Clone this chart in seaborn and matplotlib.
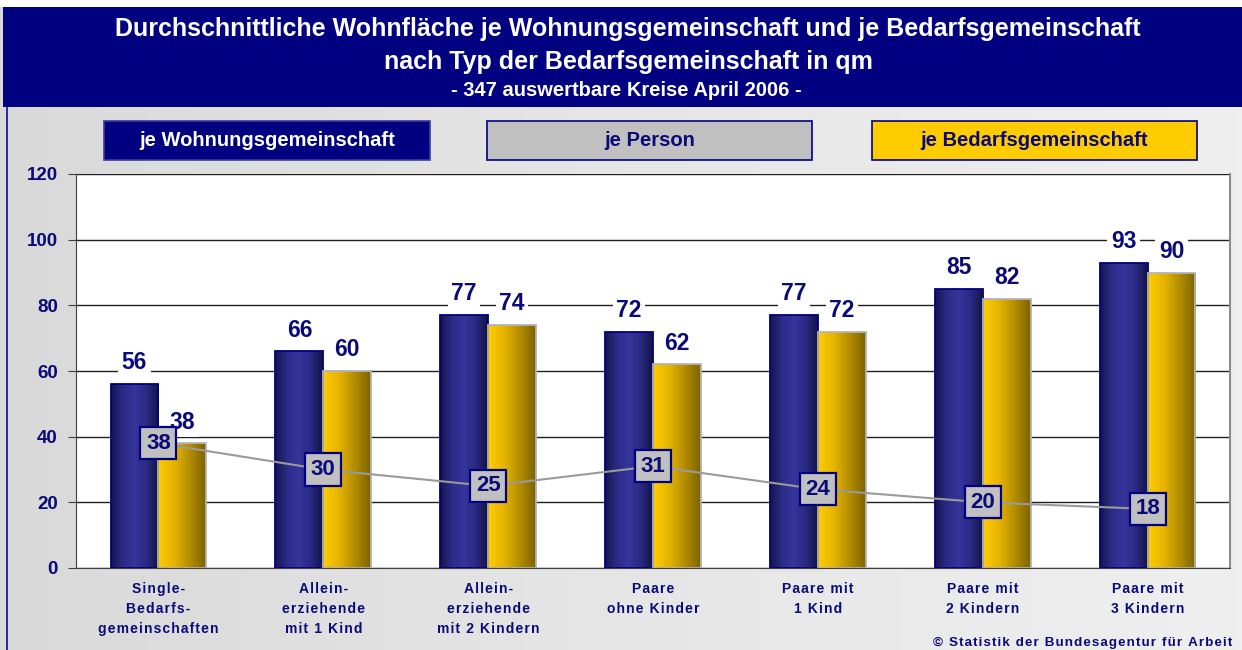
import numpy as np
import pandas as pd
import matplotlib
matplotlib.use("Agg")
import matplotlib.pyplot as plt
import seaborn as sns
from matplotlib.colors import LinearSegmentedColormap
from matplotlib.patches import Rectangle

# ===== Data =====
categories = [
    "Single-\nBedarfs-\ngemeinschaften",
    "Allein-\nerziehende\nmit 1 Kind",
    "Allein-\nerziehende\nmit 2 Kindern",
    "Paare\nohne Kinder",
    "Paare mit\n1 Kind",
    "Paare mit\n2 Kindern",
    "Paare mit\n3 Kindern",
]
je_wg = [56, 66, 77, 72, 77, 85, 93]
je_bg = [38, 60, 74, 62, 72, 82, 90]
je_person = [38, 30, 25, 31, 24, 20, 18]
series_names = ["je Wohnungsgemeinschaft", "je Bedarfsgemeinschaft"]

NAVY = "#000080"
TEXT_NAVY = "#0a0a78"
GOLD = "#ffcc00"
GREY = "#c0c0c0"

df = pd.DataFrame({
    "typ": categories * 2,
    "serie": [series_names[0]] * len(categories) + [series_names[1]] * len(categories),
    "qm": je_wg + je_bg,
})

sns.set_style("white")
plt.rcParams["font.family"] = ["Liberation Sans", "DejaVu Sans"]

W, H = 1242, 650
fig = plt.figure(figsize=(W / 100, H / 100), dpi=100)


def px(x0, y0, x1, y1):
    # pixel box (top-left origin) -> figure fraction rect
    return [x0 / W, 1 - y1 / H, (x1 - x0) / W, (y1 - y0) / H]


def spaced(s):
    # gesperrte Schrift: hair space between letters
    return "\n".join("\u200a".join(line) for line in s.split("\n"))


# ===== Background =====
bg_ax = fig.add_axes([0, 0, 1, 1], zorder=-10)
bg_cmap = LinearSegmentedColormap.from_list("bg", ["#d9d9d9", "#e6e6e6", "#efefef"])
bg_ax.imshow(np.linspace(0, 1, 256).reshape(1, -1), cmap=bg_cmap, aspect="auto",
             extent=[0, 1, 0, 1])
bg_ax.set_axis_off()
bg_ax.set_xlim(0, 1)
bg_ax.set_ylim(0, 1)
fig.patches.append(Rectangle((0, 1 - 7 / H), 1, 7 / H, transform=fig.transFigure,
                             facecolor="white", edgecolor="none", zorder=-5))
fig.patches.append(Rectangle((3 / W, 1 - 107 / H), 1, 100 / H, transform=fig.transFigure,
                             facecolor=NAVY, edgecolor="none", zorder=-5))
fig.patches.append(Rectangle((6 / W, 0), 2 / W, 1 - 107 / H, transform=fig.transFigure,
                             facecolor="#2b2bb0", edgecolor="none", zorder=-5))

fig.text(628 / W, 1 - 29 / H, "Durchschnittliche Wohnfläche je Wohnungsgemeinschaft und je Bedarfsgemeinschaft",
         color="white", fontsize=18, fontweight="bold", ha="center", va="center")
fig.text(628 / W, 1 - 62 / H, "nach Typ der Bedarfsgemeinschaft in qm",
         color="white", fontsize=18, fontweight="bold", ha="center", va="center")
fig.text(626 / W, 1 - 90 / H, "- 347 auswertbare Kreise April 2006 -",
         color="white", fontsize=14.5, fontweight="bold", ha="center", va="center")

# ===== Legend boxes =====
legend_items = [
    ("je Wohnungsgemeinschaft", NAVY, "white", 104, 430, "#3a3aa0"),
    ("je Person", GREY, TEXT_NAVY, 487, 812, NAVY),
    ("je Bedarfsgemeinschaft", GOLD, TEXT_NAVY, 872, 1197, NAVY),
]
for label, fc, tc, x0, x1, ec in legend_items:
    r = px(x0, 121, x1, 160)
    fig.patches.append(Rectangle((r[0], r[1]), r[2], r[3], transform=fig.transFigure,
                                 facecolor=fc, edgecolor=ec, linewidth=1.2, zorder=-4))
    fig.text((x0 + x1) / 2 / W, 1 - 141 / H, label, color=tc, fontsize=14.5,
             fontweight="bold", ha="center", va="center")

# ===== Chart =====
ax = fig.add_axes(px(76, 174, 1230, 568))
ax.set_facecolor("white")
sns.barplot(data=df, x="typ", y="qm", hue="serie", order=categories,
            hue_order=series_names, width=0.58, gap=0, legend=False,
            palette=[NAVY, GOLD], ax=ax)

grad_colors = [
    ["#15154f", "#2c2c88", "#35359c", "#2a2a84", "#131345"],
    ["#ffcc00", "#e6b400", "#b38d00", "#7d6200"],
]
edge_colors = [NAVY, "#b4b4b4"]
for cont, cols, ec in zip(ax.containers, grad_colors, edge_colors):
    cmap = LinearSegmentedColormap.from_list("g", cols)
    for patch in cont.patches:
        x0, y0 = patch.get_x(), patch.get_y()
        w, h = patch.get_width(), patch.get_height()
        im = ax.imshow(np.linspace(0, 1, 128).reshape(1, -1), cmap=cmap, aspect="auto",
                       extent=[x0, x0 + w, y0, y0 + h], zorder=1.9)
        im.set_clip_path(patch)
        patch.set_facecolor("none")
        patch.set_edgecolor(ec)
        patch.set_linewidth(1.3)
        patch.set_zorder(2)

# bar value labels
for cont in ax.containers:
    for patch in cont.patches:
        xc = patch.get_x() + patch.get_width() / 2
        ax.annotate(f"{patch.get_height():.0f}", (xc, patch.get_height()),
                    xytext=(0, 7), textcoords="offset points", ha="center", va="bottom",
                    fontsize=16.5, fontweight="bold", color=TEXT_NAVY, zorder=3,
                    bbox=dict(boxstyle="square,pad=0.15", facecolor="white", edgecolor="none"))

# je Person line
xs = np.arange(len(categories))
sns.lineplot(x=xs, y=je_person, color="#9a9a9a", linewidth=1.5, ax=ax, zorder=4)
for x, v in zip(xs, je_person):
    ax.text(x, v, f"{v}", ha="center", va="center", fontsize=16, fontweight="bold",
            color=TEXT_NAVY, zorder=5,
            bbox=dict(boxstyle="square,pad=0.25", facecolor=GREY, edgecolor=NAVY, linewidth=1.6))

ax.set_xlim(-0.5, len(categories) - 0.5)
ax.set_ylim(0, 120)
ax.set_yticks(range(0, 121, 20))
ax.set_axisbelow(True)
ax.yaxis.grid(True, color="#202020", linewidth=1.0)
ax.set_xlabel("")
ax.set_ylabel("")
ax.set_xticks(xs)
ax.set_xticklabels([spaced(c) for c in categories], fontsize=10, fontweight="bold",
                   color=TEXT_NAVY, linespacing=1.55)
ax.tick_params(axis="x", which="major", length=0, pad=10)
ax.set_xticks(np.arange(-0.5, len(categories), 1), minor=True)
ax.tick_params(axis="x", which="minor", length=5, color="#404040", direction="out")
ax.tick_params(axis="y", length=6, color="#404040", direction="out", left=True, pad=7)
for t in ax.get_yticklabels():
    t.set_fontweight("bold")
    t.set_fontsize(13.5)
    t.set_color(TEXT_NAVY)
ax.spines["top"].set_visible(False)
ax.spines["left"].set_color("#404040")
ax.spines["bottom"].set_color("#404040")
ax.spines["right"].set_color("#8c8c8c")
ax.spines["right"].set_linewidth(1.5)

fig.text(1232 / W, 1 - 643 / H, spaced("© Statistik der Bundesagentur für Arbeit"), color=TEXT_NAVY,
         fontsize=9.6, fontweight="bold", ha="right", va="center")

fig.savefig("out.png", dpi=100)
